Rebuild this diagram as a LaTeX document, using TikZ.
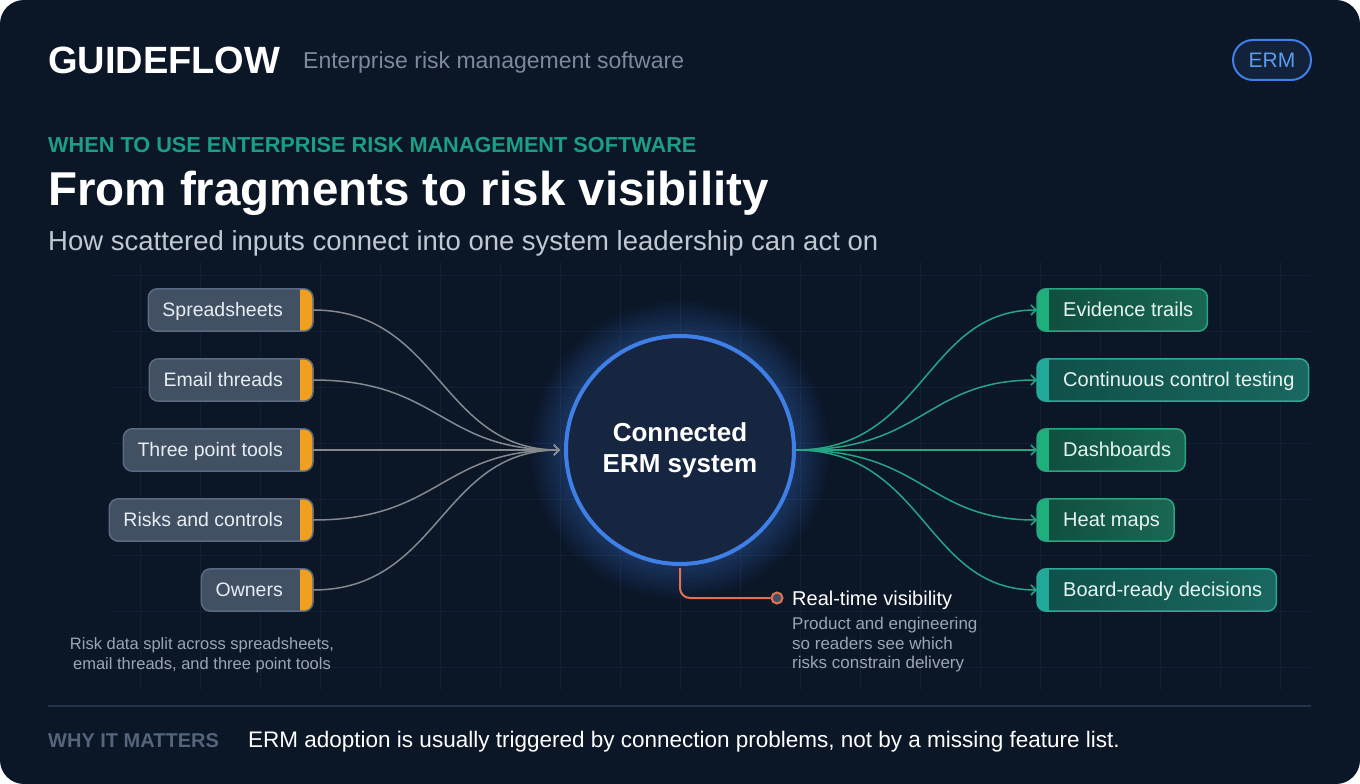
\documentclass[tikz,border=0pt]{standalone}
\usepackage{fontspec}
\setmainfont{Liberation Sans}
\usetikzlibrary{arrows.meta,calc}
\definecolor{bg}{HTML}{0B1627}
\definecolor{gridc}{HTML}{122036}
\definecolor{lfill}{HTML}{425064}
\definecolor{lborder}{HTML}{5B6A82}
\definecolor{ltab}{HTML}{F0A01E}
\definecolor{ltext}{HTML}{E8EDF2}
\definecolor{lconnc}{HTML}{85898E}
\definecolor{rconnc}{HTML}{26A585}
\definecolor{gfillA}{HTML}{104D3E}
\definecolor{gfillB}{HTML}{196853}
\definecolor{gtab}{HTML}{1DB07A}
\definecolor{gborder}{HTML}{2AA580}
\definecolor{tfillA}{HTML}{104F4A}
\definecolor{tfillB}{HTML}{19685F}
\definecolor{ttab}{HTML}{20A898}
\definecolor{tborder}{HTML}{2BA898}
\definecolor{rtext}{HTML}{E6F4EF}
\definecolor{cfill}{HTML}{172640}
\definecolor{cblue}{HTML}{3F80E8}
\definecolor{orng}{HTML}{E2714F}
\definecolor{mutedA}{HTML}{7D8A9C}
\definecolor{kicker}{HTML}{1C9E86}
\definecolor{subt}{HTML}{C0C8D2}
\definecolor{notec}{HTML}{9AA6B4}
\definecolor{whyc}{HTML}{53647B}
\definecolor{sepc}{HTML}{22324A}
\definecolor{pillfill}{HTML}{12223A}
\definecolor{pilltext}{HTML}{5C9CF0}
\tikzset{
  lbox/.style={fill=lfill, rounded corners=9, minimum height=42, inner xsep=14, inner ysep=0, text height=15, text depth=2, text=ltext, font=\fontsize{19.5}{23}\selectfont},
  rbox/.style={rounded corners=9, minimum height=42, inner xsep=14, inner ysep=0, text height=15, text depth=2, text=rtext, font=\fontsize{20}{24}\selectfont},
  lconn/.style={draw=lconnc, line width=1.5, -{Straight Barb[length=5pt,width=10pt,line width=1.5pt]}},
  rconn/.style={draw=rconnc, line width=1.5, -{Straight Barb[length=5pt,width=10pt,line width=1.5pt]}},
  gridline/.style={draw=gridc, line width=1}
}
\newcommand\leftbox[3]{%
  \node[lbox, anchor=east] (#1) at (313,#2) {#3\rule{16pt}{0pt}};
  \begin{scope}
    \clip[rounded corners=9] (#1.south west) rectangle (#1.north east);
    \fill[ltab] ([xshift=-13pt]#1.north east) rectangle (#1.south east);
  \end{scope}
  \draw[lborder, line width=1.5, rounded corners=9] (#1.south west) rectangle (#1.north east);
}
\newcommand\rightbox[7]{%
  \node[rbox, anchor=west, left color=#4, right color=#5] (#1) at (1037,#2) {\rule{12pt}{0pt}#3};
  \begin{scope}
    \clip[rounded corners=9] (#1.south west) rectangle (#1.north east);
    \fill[#7] (#1.north west) rectangle ([xshift=12pt]#1.south west);
  \end{scope}
  \draw[#6, line width=1.5, rounded corners=9] (#1.south west) rectangle (#1.north east);
}
\begin{document}
\begin{tikzpicture}[x=1pt,y=-1pt]
\useasboundingbox (0,0) rectangle (1360,784);
\fill[white] (0,0) rectangle (1360,784);
\fill[bg, rounded corners=24] (0,0) rectangle (1360,784);

% grid
\foreach \gx in {140,200,...,1280} { \draw[gridline] (\gx,262) -- (\gx,690); }
\foreach \gy in {275,331,...,690} { \draw[gridline] (110,\gy) -- (1310,\gy); }

% header
\node[anchor=base west, inner sep=0, text=white, font=\fontsize{38}{44}\selectfont\bfseries] (brand) at (48,74) {GUIDEFLOW};
\node[anchor=base west, inner sep=0, text=mutedA, font=\fontsize{23}{27}\selectfont] (tag) at (303,69) {Enterprise risk management software};
\node[draw=cblue, line width=2, fill=pillfill, rounded corners=20, minimum width=78, minimum height=40, text=pilltext, font=\fontsize{21}{24}\selectfont] (pill) at (1272,60) {ERM};

\node[anchor=base west, inner sep=0, text=kicker, font=\fontsize{21.7}{25}\selectfont\bfseries] (kick) at (48,152) {WHEN TO USE ENTERPRISE RISK MANAGEMENT SOFTWARE};
\node[anchor=base west, inner sep=0, text=white, font=\fontsize{47.5}{54}\selectfont\bfseries] (title) at (48,205) {From fragments to risk visibility};
\node[anchor=base west, inner sep=0, text=subt, font=\fontsize{27.5}{32}\selectfont] (sub) at (48,250) {How scattered inputs connect into one system leadership can act on};

% glow
\foreach \i in {1,...,18} {
  \pgfmathsetmacro\op{0.26*(1-\i/19)}
  \draw[cblue, line width=2.2pt, opacity=\op] (680,450) circle[radius={(114+2*\i)*1pt}];
}
\node[circle, minimum size=228, inner sep=0, fill=cfill, draw=cblue, line width=4, text=white, align=center, font=\fontsize{26}{31}\selectfont\bfseries] (erm) at (680,450) {Connected\\ERM system};

% left boxes
\leftbox{sp}{310}{Spreadsheets}
\leftbox{em}{380}{Email threads}
\leftbox{tp}{450}{Three point tools}
\leftbox{rc}{520}{Risks and controls}
\leftbox{ow}{590}{Owners}

\draw[lconn] (sp.east) .. controls (440,310) and (440,450) .. ([xshift=-4pt]erm.west);
\draw[lconn] (em.east) .. controls (440,380) and (440,450) .. ([xshift=-4pt]erm.west);
\draw[lconn] (tp.east) -- ([xshift=-4pt]erm.west);
\draw[lconn] (rc.east) .. controls (440,520) and (440,450) .. ([xshift=-4pt]erm.west);
\draw[lconn] (ow.east) .. controls (440,590) and (440,450) .. ([xshift=-4pt]erm.west);

% right boxes
\rightbox{ev}{310}{Evidence trails}{gfillA}{gfillB}{gborder}{gtab}
\rightbox{cc}{380}{Continuous control testing}{tfillA}{tfillB}{tborder}{ttab}
\rightbox{db}{450}{Dashboards}{gfillA}{gfillB}{gborder}{gtab}
\rightbox{hm}{520}{Heat maps}{gfillA}{gfillB}{gborder}{gtab}
\rightbox{bd}{590}{Board-ready decisions}{tfillA}{tfillB}{tborder}{ttab}

\draw[rconn] (erm.east) .. controls (925,450) and (925,310) .. (ev.west);
\draw[rconn] (erm.east) .. controls (925,450) and (925,380) .. (cc.west);
\draw[rconn] (erm.east) -- (db.west);
\draw[rconn] (erm.east) .. controls (925,450) and (925,520) .. (hm.west);
\draw[rconn] (erm.east) .. controls (925,450) and (925,590) .. (bd.west);

% real-time visibility
\node[circle, minimum size=11, inner sep=0, draw=orng, line width=2, fill=lfill] (rtm) at (777,598) {};
\draw[orng, line width=2, rounded corners=10] ([yshift=-2pt]erm.south) |- (rtm.west);
\node[anchor=base west, inner sep=0, text=white, font=\fontsize{20}{24}\selectfont] (rtl) at (792,605) {Real-time visibility};
\node[anchor=north west, inner sep=0, align=left, text=notec, font=\fontsize{17}{19.5}\selectfont] (rtc) at (792,617) {Product and engineering\\so readers see which\\risks constrain delivery};

% left note
\node[anchor=north, inner sep=0, align=center, text=notec, font=\fontsize{16.5}{20}\selectfont] (note) at (202,637) {Risk data split across spreadsheets,\\email threads, and three point tools};

% footer
\coordinate (s1) at (48,706);
\coordinate (s2) at (1311,706);
\draw[sepc, line width=2] (s1) -- (s2);
\node[anchor=base west, inner sep=0, text=whyc, font=\fontsize{20}{24}\selectfont\bfseries] (why) at (48,747) {WHY IT MATTERS};
\node[anchor=base west, inner sep=0, text=white, font=\fontsize{22.5}{27}\selectfont] (msg) at (248,747) {ERM adoption is usually triggered by connection problems, not by a missing feature list.};
\end{tikzpicture}
\end{document}
